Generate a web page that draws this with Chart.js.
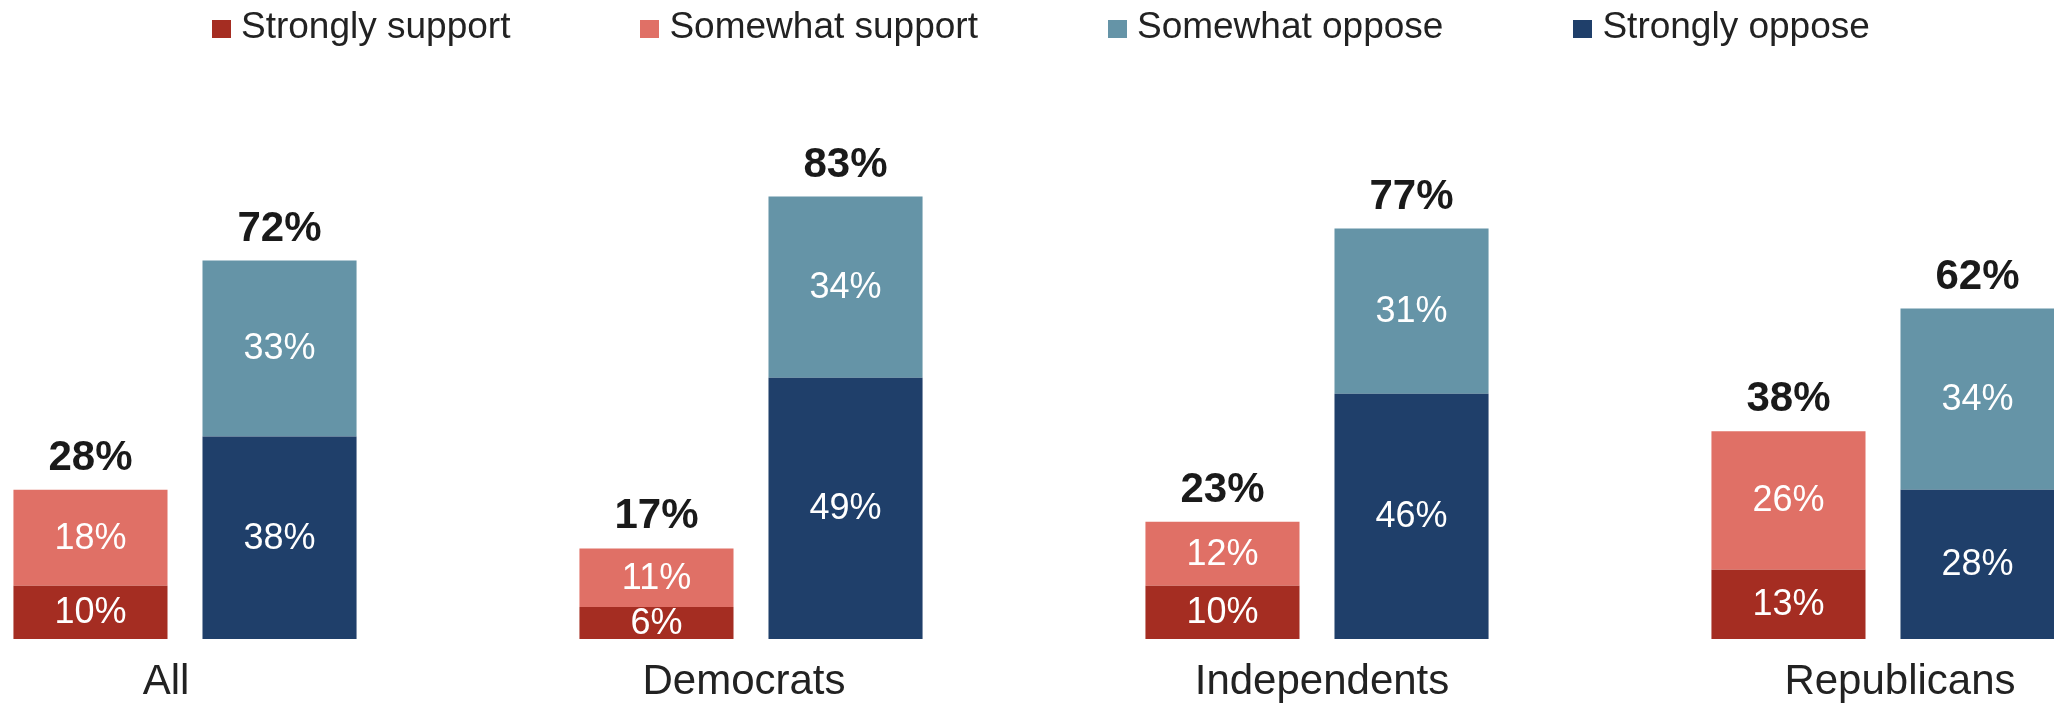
<!DOCTYPE html>
<html><head><meta charset="utf-8">
<script src="https://cdn.jsdelivr.net/npm/chart.js@4/dist/chart.umd.min.js"></script>
<style>
html,body{margin:0;padding:0;background:#fff;width:2054px;height:704px;overflow:hidden;position:relative;font-family:"Liberation Sans",Arial,sans-serif;}
#wrap{position:absolute;left:-98px;top:0;width:2264px;height:725px;}
#c{display:block;width:2264px;height:725px;}
#legend{position:absolute;left:212px;top:7px;white-space:nowrap;font-size:37px;line-height:37px;color:#222;}
.item{display:inline-block;margin-right:130px}
.item:last-child{margin-right:0}
.box{display:inline-block;width:19px;height:18px;margin-right:10px;vertical-align:baseline}
</style></head>
<body>
<div id="wrap"><canvas id="c" width="2264" height="725"></canvas></div>
<div id="legend"></div>
<script>
const categories = ["All", "Democrats", "Independents", "Republicans"];
const stronglySupport = [10, 6, 10, 13];
const somewhatSupport = [18, 11, 12, 26];
const somewhatOppose = [33, 34, 31, 34];
const stronglyOppose = [38, 49, 46, 28];
const supportTotals = [28, 17, 23, 38];
const opposeTotals = [72, 83, 77, 62];
const seriesNames = ["Strongly support", "Somewhat support", "Somewhat oppose", "Strongly oppose"];
const seriesColors = ["#A52D22", "#E07066", "#6594A7", "#1F3F6A"];

const FONT = '"Liberation Sans", Arial, sans-serif';
const LABEL_MIN = -0.4567, LABEL_MAX = 3.4602;

// HTML legend
const leg = document.getElementById('legend');
seriesNames.forEach((name, i) => {
  const it = document.createElement('span'); it.className = 'item';
  const b = document.createElement('span'); b.className = 'box'; b.style.background = seriesColors[i];
  it.appendChild(b); it.appendChild(document.createTextNode(name));
  leg.appendChild(it);
});

const totalsByStack = { support: supportTotals, oppose: opposeTotals };

const labelPlugin = {
  id: 'labels',
  afterDatasetsDraw(chart) {
    const ctx = chart.ctx;
    ctx.save();
    ctx.textAlign = 'center';
    ctx.fillStyle = '#ffffff';
    ctx.font = '36px ' + FONT;
    ctx.textBaseline = 'middle';
    chart.data.datasets.forEach((ds, di) => {
      const meta = chart.getDatasetMeta(di);
      meta.data.forEach((el, i) => {
        const y = (el.y + el.base) / 2;
        ctx.fillText(ds.data[i] + '%', el.x, y + 1);
      });
    });
    const topByStack = {};
    chart.data.datasets.forEach((ds, di) => { topByStack[ds.stack] = di; });
    ctx.fillStyle = '#1a1a1a';
    ctx.font = 'bold 42px ' + FONT;
    ctx.textBaseline = 'alphabetic';
    Object.keys(topByStack).forEach(stack => {
      const meta = chart.getDatasetMeta(topByStack[stack]);
      meta.data.forEach((el, i) => {
        ctx.fillText(totalsByStack[stack][i] + '%', el.x, el.y - 20);
      });
    });
    ctx.restore();
  }
};

new Chart(document.getElementById('c'), {
  type: 'bar',
  data: {
    labels: categories,
    datasets: [
      { label: seriesNames[0], data: stronglySupport, backgroundColor: seriesColors[0], stack: 'support' },
      { label: seriesNames[1], data: somewhatSupport, backgroundColor: seriesColors[1], stack: 'support' },
      { label: seriesNames[3], data: stronglyOppose, backgroundColor: seriesColors[3], stack: 'oppose' },
      { label: seriesNames[2], data: somewhatOppose, backgroundColor: seriesColors[2], stack: 'oppose' }
    ]
  },
  options: {
    responsive: false,
    devicePixelRatio: 1,
    animation: false,
    categoryPercentage: 0.668,
    barPercentage: 0.815,
    layout: { padding: { top: 106, bottom: 0, left: 0, right: 0 } },
    plugins: { legend: { display: false }, tooltip: { enabled: false } },
    scales: {
      x: { stacked: true, display: false },
      xl: {
        type: 'linear',
        position: 'bottom',
        offset: false,
        bounds: 'data',
        min: LABEL_MIN,
        max: LABEL_MAX,
        afterDataLimits: (scale) => { scale.min = LABEL_MIN; scale.max = LABEL_MAX; },
        afterBuildTicks: (scale) => {
          scale.min = LABEL_MIN; scale.max = LABEL_MAX;
          scale.ticks = categories.map((_, i) => ({ value: i }));
        },
        grid: { display: false, drawTicks: false, offset: false },
        border: { display: false },
        ticks: {
          color: '#222',
          font: { family: FONT, size: 42, lineHeight: 1 },
          padding: 22, maxRotation: 0, autoSkip: false,
          callback: (v) => categories[v]
        }
      },
      y: { stacked: true, display: false, min: 0, max: 100 }
    }
  },
  plugins: [labelPlugin]
});
</script>
</body></html>
